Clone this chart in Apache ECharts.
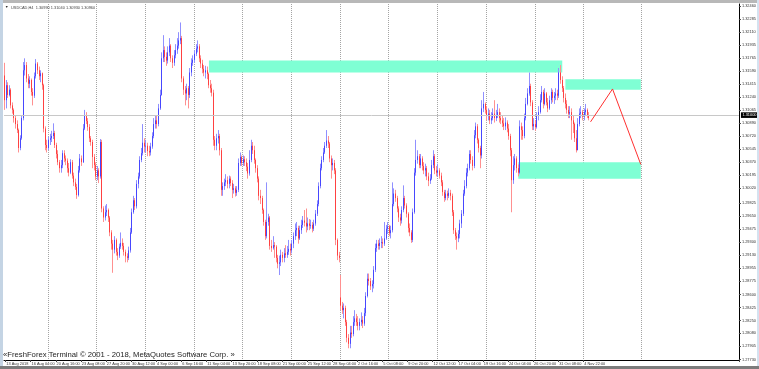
<!DOCTYPE html>
<html><head><meta charset="utf-8">
<script src="https://cdn.jsdelivr.net/npm/echarts@6/dist/echarts.min.js"></script>
<style>html,body{margin:0;padding:0;background:#fff}#c{width:759px;height:369px}</style>
</head><body><div id="c"></div>
<script>
const symbolName = 'USDCAD,H4';
const copyrightText = '\u00abFreshForex Terminal \u00a9 2001 - 2018, MetaQuotes Software Corp. \u00bb';

const opens = [
1.3153,1.3120,1.3140,1.3127,1.3134,1.3113,1.3107,1.3096,1.3088,1.3080,
1.3056,1.3069,1.3096,1.3160,1.3167,1.3149,1.3142,1.3147,1.3131,1.3126,
1.3152,1.3169,1.3160,1.3152,1.3156,1.3140,1.3082,1.3060,1.3056,1.3067,
1.3069,1.3072,1.3076,1.3060,1.3048,1.3037,1.3029,1.3033,1.3049,1.3042,
1.3039,1.3029,1.3023,1.3037,1.3019,1.3010,1.3004,1.2993,1.3026,1.3042,
1.3037,1.3082,1.3099,1.3092,1.3084,1.3069,1.3064,1.3044,1.3033,1.3018,
1.3026,1.3018,1.3064,1.2975,1.2963,1.2970,1.2973,1.2963,1.2943,1.2928,
1.2920,1.2933,1.2917,1.2912,1.2924,1.2929,1.2925,1.2917,1.2911,1.2909,
1.2919,1.2943,1.2970,1.2986,1.2978,1.3008,1.3018,1.3040,1.3049,1.3063,
1.3058,1.3059,1.3052,1.3050,1.3058,1.3072,1.3088,1.3093,1.3088,1.3109,
1.3127,1.3176,1.3187,1.3178,1.3173,1.3184,1.3193,1.3176,1.3170,1.3180,
1.3187,1.3193,1.3200,1.3203,1.3149,1.3134,1.3129,1.3136,1.3127,1.3157,
1.3170,1.3174,1.3182,1.3189,1.3192,1.3176,1.3169,1.3162,1.3157,1.3160,
1.3155,1.3140,1.3136,1.3130,1.3067,1.3059,1.3069,1.3072,1.3053,1.3000,
1.3005,1.3010,1.3013,1.3008,1.3015,1.3009,1.3000,1.3002,1.2996,1.3000,
1.3036,1.3044,1.3036,1.3041,1.3037,1.3031,1.3022,1.3040,1.3059,1.3053,
1.3040,1.3029,1.3015,1.2992,1.2989,1.2973,1.2957,1.2938,1.2957,1.2963,
1.2925,1.2922,1.2926,1.2924,1.2909,1.2901,1.2903,1.2913,1.2909,1.2915,
1.2913,1.2917,1.2921,1.2919,1.2928,1.2938,1.2946,1.2949,1.2935,1.2946,
1.2953,1.2959,1.2956,1.2951,1.2955,1.2952,1.2953,1.2948,1.2955,1.2968,
1.2981,1.3005,1.3029,1.3040,1.3050,1.3059,1.3066,1.3062,1.3042,1.3033,
1.3036,1.3026,1.2933,1.2912,1.2856,1.2845,1.2839,1.2842,1.2823,1.2802,
1.2794,1.2809,1.2807,1.2823,1.2828,1.2823,1.2818,1.2823,1.2826,1.2821,
1.2835,1.2858,1.2881,1.2878,1.2871,1.2874,1.2893,1.2922,1.2928,1.2925,
1.2929,1.2930,1.2928,1.2935,1.2948,1.2951,1.2942,1.2946,1.2981,1.2995,
1.2989,1.2975,1.2963,1.2959,1.2973,1.2989,1.2979,1.2968,1.2949,1.2943,
1.2933,1.2970,1.3023,1.3040,1.3045,1.3033,1.3042,1.3032,1.3026,1.3029,
1.3018,1.3012,1.3015,1.3033,1.3045,1.3026,1.3023,1.3026,1.3019,1.3010,
1.2997,1.2989,1.2995,1.2992,1.2996,1.2992,1.2970,1.2946,1.2938,1.2935,
1.2941,1.2955,1.2968,1.2995,1.3005,1.3023,1.3029,1.3048,1.3040,1.3032,
1.3073,1.3085,1.3067,1.3056,1.3046,1.3109,1.3115,1.3107,1.3099,1.3102,
1.3093,1.3096,1.3102,1.3096,1.3099,1.3104,1.3096,1.3093,1.3089,1.3085,
1.3090,1.3082,1.3072,1.3053,1.3013,1.3033,1.3042,1.3029,1.3023,1.3085,
1.3080,1.3072,1.3096,1.3115,1.3129,1.3139,1.3117,1.3085,1.3088,1.3084,
1.3099,1.3104,1.3120,1.3131,1.3115,1.3129,1.3117,1.3109,1.3120,1.3131,
1.3123,1.3126,1.3129,1.3126,1.3157,1.3147,1.3136,1.3123,1.3115,1.3107,
1.3102,1.3104,1.3093,1.3088,1.3069,1.3053,1.3088,1.3102,1.3104,1.3098,
1.3104,1.3107,1.3099];

const highs = [
1.3170,1.3147,1.3144,1.3140,1.3136,1.3117,1.3109,1.3100,1.3093,1.3082,
1.3073,1.3100,1.3171,1.3176,1.3171,1.3155,1.3152,1.3149,1.3136,1.3157,
1.3175,1.3171,1.3165,1.3160,1.3157,1.3142,1.3085,1.3067,1.3071,1.3075,
1.3079,1.3089,1.3079,1.3063,1.3053,1.3040,1.3040,1.3053,1.3053,1.3046,
1.3042,1.3036,1.3041,1.3040,1.3023,1.3015,1.3008,1.3032,1.3048,1.3046,
1.3088,1.3107,1.3104,1.3096,1.3088,1.3072,1.3067,1.3048,1.3037,1.3032,
1.3029,1.3068,1.3067,1.2978,1.2979,1.2981,1.2975,1.2965,1.2946,1.2933,
1.2938,1.2935,1.2922,1.2928,1.2943,1.2935,1.2929,1.2920,1.2915,1.2924,
1.2949,1.2975,1.2992,1.2989,1.3013,1.3023,1.3045,1.3056,1.3088,1.3069,
1.3067,1.3063,1.3059,1.3063,1.3077,1.3096,1.3100,1.3099,1.3115,1.3134,
1.3184,1.3207,1.3192,1.3184,1.3192,1.3203,1.3195,1.3180,1.3187,1.3195,
1.3203,1.3211,1.3224,1.3206,1.3152,1.3139,1.3142,1.3139,1.3163,1.3176,
1.3180,1.3187,1.3195,1.3200,1.3195,1.3180,1.3174,1.3167,1.3166,1.3165,
1.3157,1.3147,1.3142,1.3134,1.3072,1.3075,1.3080,1.3075,1.3056,1.3010,
1.3015,1.3021,1.3018,1.3019,1.3018,1.3013,1.3008,1.3005,1.3005,1.3042,
1.3050,1.3046,1.3046,1.3045,1.3042,1.3036,1.3053,1.3067,1.3064,1.3059,
1.3042,1.3033,1.3018,1.3000,1.2992,1.2975,1.2960,1.3010,1.2968,1.2965,
1.2933,1.2938,1.2930,1.2926,1.2913,1.2912,1.2920,1.2917,1.2922,1.2926,
1.2925,1.2933,1.2928,1.2933,1.2943,1.2955,1.2957,1.2952,1.2952,1.2960,
1.2965,1.2973,1.2975,1.2963,1.2961,1.2960,1.2957,1.2960,1.2973,1.2986,
1.3010,1.3035,1.3045,1.3056,1.3064,1.3080,1.3072,1.3064,1.3046,1.3042,
1.3040,1.3029,1.2935,1.2917,1.2886,1.2850,1.2848,1.2845,1.2826,1.2807,
1.2818,1.2818,1.2831,1.2839,1.2834,1.2831,1.2828,1.2836,1.2831,1.2842,
1.2863,1.2888,1.2888,1.2882,1.2879,1.2898,1.2928,1.2933,1.2933,1.2935,
1.2938,1.2935,1.2957,1.2953,1.2957,1.2953,1.2952,1.3010,1.3002,1.3000,
1.2992,1.2978,1.2968,1.2978,1.3006,1.2992,1.2982,1.2970,1.2955,1.2946,
1.2975,1.3029,1.3067,1.3053,1.3048,1.3048,1.3045,1.3037,1.3035,1.3032,
1.3023,1.3021,1.3040,1.3053,1.3048,1.3032,1.3035,1.3029,1.3023,1.3013,
1.3000,1.3000,1.2999,1.3002,1.3000,1.2995,1.2973,1.2949,1.2943,1.2946,
1.2960,1.2973,1.3000,1.3013,1.3029,1.3035,1.3053,1.3053,1.3045,1.3080,
1.3090,1.3088,1.3069,1.3059,1.3120,1.3131,1.3117,1.3112,1.3109,1.3107,
1.3104,1.3109,1.3120,1.3107,1.3115,1.3109,1.3104,1.3099,1.3096,1.3097,
1.3093,1.3088,1.3075,1.3056,1.3045,1.3048,1.3045,1.3034,1.3093,1.3090,
1.3085,1.3102,1.3123,1.3136,1.3157,1.3142,1.3120,1.3096,1.3093,1.3104,
1.3112,1.3128,1.3139,1.3134,1.3136,1.3131,1.3123,1.3126,1.3136,1.3134,
1.3131,1.3136,1.3134,1.3163,1.3167,1.3152,1.3139,1.3129,1.3120,1.3112,
1.3112,1.3109,1.3099,1.3090,1.3080,1.3096,1.3109,1.3112,1.3107,1.3109,
1.3115,1.3109,1.3104];

const lows = [
1.3107,1.3109,1.3123,1.3125,1.3109,1.3102,1.3090,1.3082,1.3076,1.3050,
1.3053,1.3067,1.3093,1.3153,1.3144,1.3136,1.3136,1.3126,1.3113,1.3123,
1.3149,1.3155,1.3147,1.3144,1.3134,1.3077,1.3053,1.3050,1.3053,1.3060,
1.3064,1.3068,1.3056,1.3042,1.3033,1.3023,1.3023,1.3029,1.3037,1.3033,
1.3023,1.3018,1.3021,1.3015,1.3005,1.3000,1.2988,1.2991,1.3023,1.3032,
1.3036,1.3080,1.3088,1.3079,1.3064,1.3059,1.3029,1.3026,1.3013,1.3013,
1.3009,1.3015,1.2970,1.2957,1.2959,1.2965,1.2957,1.2938,1.2920,1.2889,
1.2915,1.2912,1.2906,1.2909,1.2921,1.2920,1.2912,1.2903,1.2903,1.2906,
1.2916,1.2941,1.2968,1.2973,1.2975,1.3002,1.3015,1.3037,1.3046,1.3050,
1.3050,1.3045,1.3045,1.3046,1.3055,1.3069,1.3082,1.3082,1.3085,1.3107,
1.3126,1.3171,1.3171,1.3166,1.3169,1.3179,1.3171,1.3163,1.3166,1.3176,
1.3182,1.3189,1.3195,1.3144,1.3127,1.3113,1.3120,1.3109,1.3123,1.3152,
1.3166,1.3170,1.3179,1.3184,1.3171,1.3163,1.3156,1.3152,1.3149,1.3148,
1.3136,1.3130,1.3125,1.3059,1.3053,1.3053,1.3062,1.3046,1.2992,1.2992,
1.3000,1.3005,1.3002,1.3002,1.3005,1.2989,1.2995,1.2991,1.2992,1.2997,
1.3032,1.3032,1.3032,1.3032,1.3025,1.3015,1.3019,1.3037,1.3048,1.3035,
1.3023,1.3010,1.2986,1.2981,1.2968,1.2952,1.2933,1.2935,1.2952,1.2920,
1.2917,1.2920,1.2909,1.2903,1.2895,1.2886,1.2898,1.2903,1.2903,1.2909,
1.2909,1.2913,1.2912,1.2915,1.2922,1.2933,1.2938,1.2928,1.2933,1.2941,
1.2949,1.2951,1.2943,1.2946,1.2946,1.2948,1.2943,1.2945,1.2952,1.2965,
1.2978,1.3002,1.3026,1.3037,1.3048,1.3056,1.3056,1.3037,1.3015,1.3026,
1.3021,1.2926,1.2906,1.2903,1.2839,1.2834,1.2828,1.2818,1.2796,1.2788,
1.2788,1.2802,1.2804,1.2818,1.2818,1.2812,1.2812,1.2818,1.2815,1.2818,
1.2831,1.2856,1.2872,1.2866,1.2863,1.2868,1.2890,1.2917,1.2920,1.2920,
1.2922,1.2922,1.2925,1.2933,1.2941,1.2938,1.2935,1.2943,1.2978,1.2984,
1.2970,1.2957,1.2952,1.2955,1.2970,1.2975,1.2963,1.2943,1.2938,1.2929,
1.2930,1.2968,1.3019,1.3035,1.3029,1.3029,1.3026,1.3021,1.3018,1.3013,
1.3005,1.3008,1.3013,1.3029,1.3021,1.3018,1.3018,1.3015,1.3005,1.2992,
1.2984,1.2986,1.2986,1.2989,1.2986,1.2965,1.2941,1.2933,1.2920,1.2930,
1.2935,1.2949,1.2965,1.2992,1.3002,1.3018,1.3026,1.3035,1.3026,1.3029,
1.3069,1.3062,1.3050,1.3029,1.3042,1.3104,1.3102,1.3093,1.3093,1.3088,
1.3088,1.3093,1.3090,1.3092,1.3096,1.3090,1.3088,1.3084,1.3080,1.3080,
1.3077,1.3067,1.3045,1.2970,1.3008,1.3026,1.3023,1.3018,1.3021,1.3067,
1.3067,1.3069,1.3093,1.3113,1.3126,1.3112,1.3080,1.3080,1.3079,1.3082,
1.3093,1.3102,1.3117,1.3109,1.3113,1.3113,1.3104,1.3107,1.3115,1.3117,
1.3115,1.3120,1.3120,1.3123,1.3142,1.3131,1.3117,1.3109,1.3102,1.3096,
1.3096,1.3067,1.3076,1.3064,1.3050,1.3053,1.3085,1.3096,1.3093,1.3093,
1.3099,1.3096,1.3093];

const closes = [
1.3120,1.3140,1.3127,1.3134,1.3113,1.3107,1.3096,1.3088,1.3080,1.3056,
1.3069,1.3096,1.3160,1.3167,1.3149,1.3142,1.3147,1.3131,1.3126,1.3152,
1.3169,1.3160,1.3152,1.3156,1.3140,1.3082,1.3060,1.3056,1.3067,1.3069,
1.3072,1.3076,1.3060,1.3048,1.3037,1.3029,1.3033,1.3049,1.3042,1.3039,
1.3029,1.3023,1.3037,1.3019,1.3010,1.3004,1.2993,1.3026,1.3042,1.3037,
1.3082,1.3099,1.3092,1.3084,1.3069,1.3064,1.3044,1.3033,1.3018,1.3026,
1.3018,1.3064,1.2975,1.2963,1.2970,1.2973,1.2963,1.2943,1.2928,1.2920,
1.2933,1.2917,1.2912,1.2924,1.2929,1.2925,1.2917,1.2911,1.2909,1.2919,
1.2943,1.2970,1.2986,1.2978,1.3008,1.3018,1.3040,1.3049,1.3063,1.3058,
1.3059,1.3052,1.3050,1.3058,1.3072,1.3088,1.3093,1.3088,1.3109,1.3127,
1.3176,1.3187,1.3178,1.3173,1.3184,1.3193,1.3176,1.3170,1.3180,1.3187,
1.3193,1.3200,1.3203,1.3149,1.3134,1.3129,1.3136,1.3127,1.3157,1.3170,
1.3174,1.3182,1.3189,1.3192,1.3176,1.3169,1.3162,1.3157,1.3160,1.3155,
1.3140,1.3136,1.3130,1.3067,1.3059,1.3069,1.3072,1.3053,1.3000,1.3005,
1.3010,1.3013,1.3008,1.3015,1.3009,1.3000,1.3002,1.2996,1.3000,1.3036,
1.3044,1.3036,1.3041,1.3037,1.3031,1.3022,1.3040,1.3059,1.3053,1.3040,
1.3029,1.3015,1.2992,1.2989,1.2973,1.2957,1.2938,1.2957,1.2963,1.2925,
1.2922,1.2926,1.2924,1.2909,1.2901,1.2903,1.2913,1.2909,1.2915,1.2913,
1.2917,1.2921,1.2919,1.2928,1.2938,1.2946,1.2949,1.2935,1.2946,1.2953,
1.2959,1.2956,1.2951,1.2955,1.2952,1.2953,1.2948,1.2955,1.2968,1.2981,
1.3005,1.3029,1.3040,1.3050,1.3059,1.3066,1.3062,1.3042,1.3033,1.3036,
1.3026,1.2933,1.2912,1.2909,1.2845,1.2839,1.2842,1.2823,1.2802,1.2794,
1.2809,1.2807,1.2823,1.2828,1.2823,1.2818,1.2823,1.2826,1.2821,1.2835,
1.2858,1.2881,1.2878,1.2871,1.2874,1.2893,1.2922,1.2928,1.2925,1.2929,
1.2930,1.2928,1.2935,1.2948,1.2951,1.2942,1.2946,1.2981,1.2995,1.2989,
1.2975,1.2963,1.2959,1.2973,1.2989,1.2979,1.2968,1.2949,1.2943,1.2933,
1.2970,1.3023,1.3040,1.3045,1.3033,1.3042,1.3032,1.3026,1.3029,1.3018,
1.3012,1.3015,1.3033,1.3045,1.3026,1.3023,1.3026,1.3019,1.3010,1.2997,
1.2989,1.2995,1.2992,1.2996,1.2992,1.2970,1.2946,1.2938,1.2935,1.2941,
1.2955,1.2968,1.2995,1.3005,1.3023,1.3029,1.3048,1.3040,1.3032,1.3073,
1.3085,1.3067,1.3056,1.3046,1.3109,1.3115,1.3107,1.3099,1.3102,1.3093,
1.3096,1.3102,1.3096,1.3099,1.3104,1.3096,1.3093,1.3089,1.3085,1.3090,
1.3082,1.3072,1.3053,1.3013,1.3033,1.3042,1.3029,1.3023,1.3085,1.3080,
1.3072,1.3096,1.3115,1.3129,1.3139,1.3117,1.3085,1.3088,1.3084,1.3099,
1.3104,1.3120,1.3131,1.3115,1.3129,1.3117,1.3109,1.3120,1.3131,1.3123,
1.3126,1.3129,1.3126,1.3157,1.3147,1.3136,1.3123,1.3115,1.3107,1.3102,
1.3104,1.3093,1.3088,1.3069,1.3053,1.3088,1.3102,1.3104,1.3098,1.3104,
1.3107,1.3099,1.3096];

const yTickLabels = ['1.32460','1.32285','1.32110','1.31935','1.31765','1.31590','1.31415','1.31240','1.31065','1.30890',
  '1.30720','1.30545','1.30370','1.30195','1.30020','1.29825','1.29650','1.29475','1.29300','1.29130',
  '1.28955','1.28775','1.28600','1.28425','1.28250','1.28080','1.27905','1.27730'];
const xTickLabels = ['13 Aug 2018','16 Aug 04:00','20 Aug 16:00','23 Aug 08:00','27 Aug 20:00','30 Aug 12:00',
  '4 Sep 00:00','6 Sep 16:00','11 Sep 04:00','13 Sep 20:00','18 Sep 08:00','21 Sep 00:00','25 Sep 12:00',
  '28 Sep 04:00','2 Oct 16:00','5 Oct 08:00','9 Oct 20:00','12 Oct 12:00','17 Oct 04:00','19 Oct 16:00',
  '24 Oct 04:00','26 Oct 20:00','31 Oct 08:00','4 Nov 22:00'];
const firstLabelBar = 1;
const barsPerLabel = 16;
const weekStartBars = [28,59,90,121,152,183,214,245,276,307,338,369];
const markerLineBar = 406;
const totalSlots = 468;
const zoneFrom = [130, 357, 327];
const zoneTo = [355, 405, 405];
const zoneTop = [1.3173, 1.3148, 1.3037];
const zoneBottom = [1.3157, 1.3134, 1.3015];
const forecastBars = [373, 387, 405];
const forecastPrices = [1.3091, 1.3135, 1.3034];
const yMin = 1.27723, yMax = 1.32487;

const slots = Array.from({length: totalSlots}, (_, i) => String(i));
const ohlc = opens.map((o, i) => [o, closes[i], lows[i], highs[i]]);
const bodies = opens.map((o, i) => [o, closes[i], Math.min(o, closes[i]), Math.max(o, closes[i])]);
const yTickValues = yTickLabels.map(Number);
const last = closes.length - 1;
const titleText = symbolName + '  ' + [opens[last], highs[last], lows[last], closes[last]].map(v => v.toFixed(5)).join(' ');
const isLabelBar = i => i >= firstLabelBar && (i - firstLabelBar) % barsPerLabel === 0 && (i - firstLabelBar) / barsPerLabel < xTickLabels.length;
const FONT = 'Liberation Sans, Arial, sans-serif';

const chart = echarts.init(document.getElementById('c'), null, {renderer: 'canvas'});
chart.setOption({
  animation: false,
  backgroundColor: '#ffffff',
  grid: {left: 4, right: 17, top: 4, bottom: 9, containLabel: false},
  xAxis: {
    type: 'category', data: slots, boundaryGap: true,
    axisLine: {show: true, lineStyle: {color: '#000', width: 1}},
    axisTick: {show: true, length: 2, interval: (i) => isLabelBar(i), lineStyle: {color: '#444'}},
    axisLabel: {show: true, interval: (i) => isLabelBar(i), formatter: (v, i) => xTickLabels[(i - firstLabelBar) / barsPerLabel],
      fontSize: 3.9, fontFamily: FONT, color: '#333', align: 'left', margin: 2},
    splitLine: {show: true, interval: (i) => weekStartBars.includes(i) || i === markerLineBar,
      lineStyle: {color: '#a4a4a4', width: 1, type: [1, 1]}}
  },
  yAxis: {
    type: 'value', position: 'right', min: yMin, max: yMax,
    axisLine: {show: true, lineStyle: {color: '#000', width: 1}},
    axisTick: {show: true, length: 2, customValues: yTickValues, lineStyle: {color: '#444'}},
    axisLabel: {show: true, customValues: yTickValues, formatter: v => v.toFixed(5), fontSize: 3.9, fontFamily: FONT, color: '#333', margin: 3},
    splitLine: {show: false}
  },
  series: [
    {
      type: 'line', data: [], z: 1, silent: true,
      markArea: {silent: true, itemStyle: {color: '#7fffd4', opacity: 1},
        data: zoneFrom.map((f, k) => [{xAxis: f, yAxis: zoneTop[k]}, {xAxis: zoneTo[k], yAxis: zoneBottom[k]}])}
    },
    {
      type: 'candlestick', name: 'wicks', data: ohlc, z: 3, barWidth: 0.6, silent: true,
      itemStyle: {color: '#8c8cff', color0: '#ff8c8c', borderColor: '#9090ff', borderColor0: '#ff9090', borderWidth: 1}
    },
    {
      type: 'candlestick', name: 'bodies', data: bodies, z: 4, barWidth: 1.3, silent: true,
      itemStyle: {color: '#2828ff', color0: '#ff2020', borderColor: '#2828ff', borderColor0: '#ff2020', borderWidth: 0.7},
      markLine: {silent: true, symbol: ['none', 'none'], animation: false,
        lineStyle: {color: '#c8c8c8', width: 1, type: 'solid'},
        label: {show: true, position: 'end', distance: 2, formatter: p => p.value.toFixed(5), backgroundColor: '#000', color: '#fff',
          fontSize: 3.9, fontFamily: FONT, padding: [0.8, 1.5, 0.8, 1.5]},
        data: [{yAxis: closes[last]}]}
    },
    {
      type: 'line', data: forecastBars.map((b, k) => [b, forecastPrices[k]]), z: 5, symbol: 'none', silent: true,
      lineStyle: {color: '#ff3030', width: 1}
    }
  ],
  graphic: [
    {type: 'rect', shape: {x: 0, y: 0, width: 759, height: 3}, style: {fill: '#b8b8b8'}, z: 100},
    {type: 'rect', shape: {x: 0, y: 0, width: 3, height: 369}, style: {fill: '#c4d4e4'}, z: 100},
    {type: 'rect', shape: {x: 757, y: 0, width: 2, height: 369}, style: {fill: '#d4e2f0'}, z: 100},
    {type: 'rect', shape: {x: 0, y: 366, width: 759, height: 3}, style: {fill: '#7c7c7c'}, z: 100},
    {type: 'text', x: 5, y: 7.5, style: {text: '\u25bc', fontSize: 3.5, fill: '#222', verticalAlign: 'middle', font: '3.5px ' + FONT}, z: 100},
    {type: 'text', x: 11, y: 7.5, style: {text: titleText, fill: '#444', verticalAlign: 'middle', font: '3.9px ' + FONT}, z: 100},
    {type: 'text', x: 3, y: 355, style: {text: copyrightText, fill: '#1e1e1e', verticalAlign: 'middle', font: '7.7px ' + FONT}, z: 100}
  ]
});
</script>
</body></html>
